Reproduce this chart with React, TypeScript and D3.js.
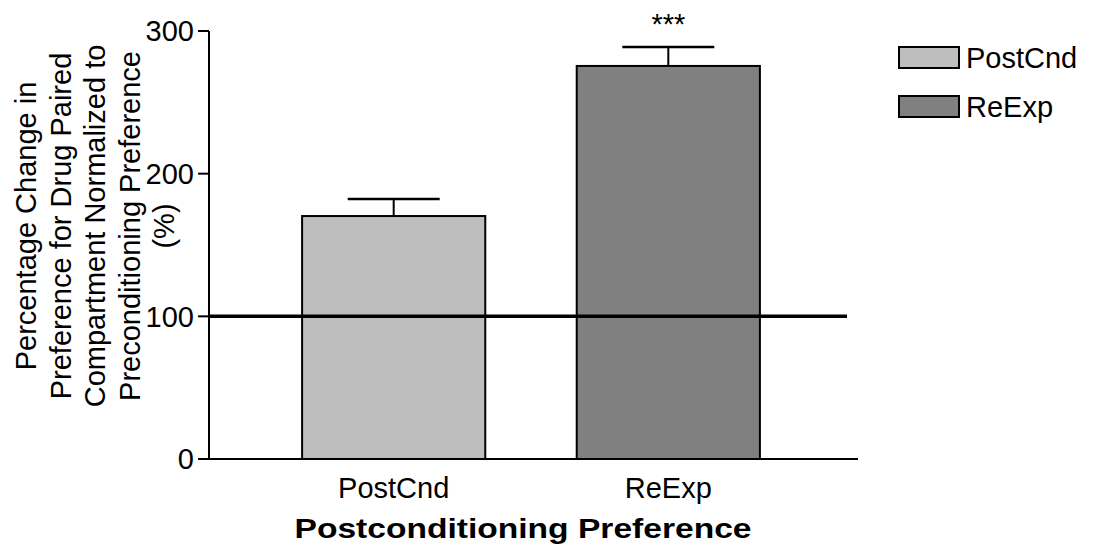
import React from "react";
import * as d3 from "d3";

const categories = ["PostCnd", "ReExp"];
const means = [170.3, 275.5];
const sems = [11.9, 13.3];
const colors = ["#bebebe", "#808080"];
const yTicks = [0, 100, 200, 300];
const refValue = 100;
const significance = ["", "***"];
const yLabelLines = [
  "Percentage Change in",
  "Preference for Drug Paired",
  "Compartment Normalized to",
  "Preconditioning Preference",
  "(%)",
];
const xTitle = "Postconditioning Preference";

const W = 1108;
const H = 557;
const font = "'Liberation Sans', Arial, sans-serif";

export default function App() {
  const x = d3
    .scaleBand<string>()
    .domain(categories)
    .range([209, 853])
    .paddingInner(0.333)
    .paddingOuter(0.339);
  const y = d3.scaleLinear().domain([0, 300]).range([459, 31]);
  const bw = x.bandwidth();
  const capHalf = 46;

  return (
    <svg
      width={W}
      height={H}
      style={{ position: "absolute", left: 0, top: 0, background: "#fff" }}
      fontFamily={font}
    >
      <rect x={0} y={0} width={W} height={H} fill="#fff" />
      {/* bars */}
      {categories.map((c, i) => {
        const bx = x(c)!;
        const cx = bx + bw / 2;
        return (
          <g key={c}>
            <line x1={cx} x2={cx} y1={y(means[i])} y2={y(means[i] + sems[i])} stroke="#000" strokeWidth={2} />
            <line x1={cx - capHalf} x2={cx + capHalf} y1={y(means[i] + sems[i])} y2={y(means[i] + sems[i])} stroke="#000" strokeWidth={2.5} />
            <rect x={bx} y={y(means[i])} width={bw} height={y(0) - y(means[i])} fill={colors[i]} stroke="#000" strokeWidth={2} />
            {significance[i] && (
              <text x={cx} y={34} textAnchor="middle" fontSize={29} fill="#000">
                {significance[i]}
              </text>
            )}
            <text x={cx} y={498} textAnchor="middle" fontSize={29} fill="#000">
              {c}
            </text>
          </g>
        );
      })}
      {/* reference line */}
      <line x1={209} x2={847} y1={y(refValue)} y2={y(refValue)} stroke="#000" strokeWidth={3.5} />
      {/* axes */}
      <line x1={209} x2={209} y1={y(300)} y2={y(0)} stroke="#000" strokeWidth={2} />
      <line x1={198} x2={858} y1={y(0)} y2={y(0)} stroke="#000" strokeWidth={2} />
      {yTicks.map((t) => (
        <g key={t}>
          <line x1={198} x2={209} y1={y(t)} y2={y(t)} stroke="#000" strokeWidth={2} />
          <text x={194} y={y(t)} dy="0.36em" textAnchor="end" fontSize={29} fill="#000">
            {t}
          </text>
        </g>
      ))}
      {/* y label */}
      {yLabelLines.map((l, i) => (
        <text
          key={i}
          transform={`translate(${36 + i * 34.5},226) rotate(-90)`}
          textAnchor="middle"
          fontSize={29}
          fill="#000"
        >
          {l}
        </text>
      ))}
      {/* x title */}
      <text x={523} y={538} textAnchor="middle" fontSize={27} fontWeight="bold" fill="#000" textLength={457} lengthAdjust="spacingAndGlyphs">
        {xTitle}
      </text>
      {/* legend */}
      {categories.map((c, i) => (
        <g key={"lg" + c}>
          <rect x={899} y={47 + i * 49} width={60} height={21} fill={colors[i]} stroke="#000" strokeWidth={2} />
          <text x={966} y={68 + i * 49} fontSize={29} fill="#000">
            {c}
          </text>
        </g>
      ))}
    </svg>
  );
}
